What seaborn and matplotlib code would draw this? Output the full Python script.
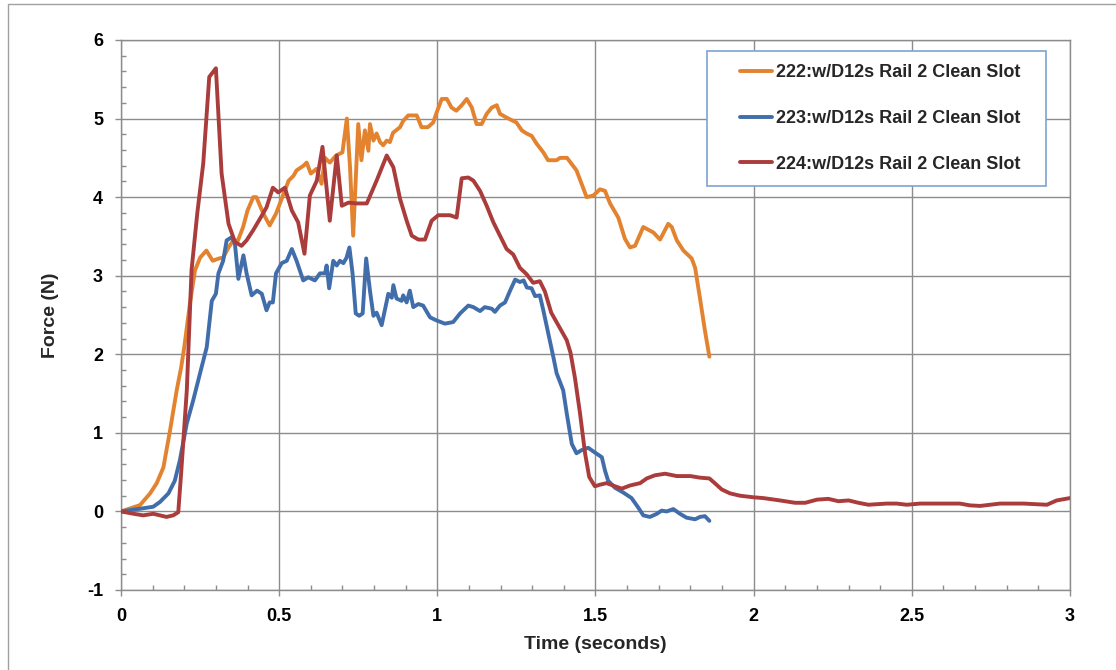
import matplotlib
matplotlib.use("Agg")
import matplotlib.pyplot as plt
from matplotlib.lines import Line2D
from matplotlib.patches import Rectangle
from matplotlib.ticker import MultipleLocator
import numpy as np
import pandas as pd
import seaborn as sns

labels = ["222:w/D12s Rail 2 Clean Slot",
          "223:w/D12s Rail 2 Clean Slot",
          "224:w/D12s Rail 2 Clean Slot"]
colors = ["#E3832F", "#416EAB", "#AA3C3B"]

t222 = [0, 0.06, 0.092, 0.113, 0.134, 0.155, 0.176, 0.19, 0.2, 0.218, 0.234, 0.25, 0.27, 0.29, 0.31,
        0.323, 0.34, 0.355, 0.37, 0.386, 0.40, 0.418, 0.428, 0.45, 0.47, 0.49, 0.51, 0.53, 0.545, 0.555,
        0.577, 0.587, 0.60, 0.618, 0.634, 0.645, 0.66, 0.68, 0.70, 0.714, 0.724, 0.734, 0.75, 0.76, 0.771,
        0.782, 0.787, 0.798, 0.808, 0.819, 0.829, 0.84, 0.85, 0.86, 0.882, 0.892, 0.908, 0.935, 0.95, 0.97,
        0.987, 0.998, 1.014, 1.03, 1.045, 1.06, 1.077, 1.093, 1.109, 1.124, 1.14, 1.156, 1.172, 1.188, 1.198,
        1.22, 1.24, 1.25, 1.267, 1.282, 1.298, 1.314, 1.335, 1.35, 1.377, 1.388, 1.41, 1.44, 1.472, 1.493,
        1.514, 1.53, 1.546, 1.572, 1.593, 1.609, 1.625, 1.651, 1.683, 1.704, 1.73, 1.741, 1.757, 1.778, 1.804,
        1.815, 1.83, 1.846, 1.86]
f222 = [0, 0.08, 0.23, 0.36, 0.56, 1.03, 1.54, 1.83, 2.09, 2.65, 3.07, 3.23, 3.32, 3.19, 3.22,
        3.23, 3.36, 3.45, 3.45, 3.62, 3.83, 4.0, 4.0, 3.79, 3.64, 3.79, 4.0, 4.21, 4.27, 4.34,
        4.4, 4.44, 4.3, 4.36, 4.17, 4.5, 4.44, 4.53, 4.57, 5.0, 4.38, 3.51, 4.93, 4.47, 4.85,
        4.59, 4.93, 4.72, 4.81, 4.7, 4.66, 4.72, 4.7, 4.82, 4.89, 4.97, 5.04, 5.04, 4.89, 4.89,
        4.95, 5.08, 5.25, 5.25, 5.14, 5.1, 5.17, 5.25, 5.14, 4.93, 4.93, 5.06, 5.14, 5.17, 5.06,
        5.01, 4.97, 4.95, 4.85, 4.81, 4.78, 4.68, 4.57, 4.47, 4.47, 4.5, 4.5, 4.34, 4.0, 4.02,
        4.1, 4.08, 3.92, 3.74, 3.47, 3.36, 3.38, 3.62, 3.55, 3.46, 3.66, 3.62, 3.45, 3.32, 3.22,
        3.1, 2.72, 2.3, 1.97]

t223 = [0, 0.07, 0.102, 0.123, 0.15, 0.17, 0.186, 0.208, 0.228, 0.25, 0.271, 0.287, 0.30, 0.308, 0.323,
        0.334, 0.35, 0.36, 0.371, 0.387, 0.397, 0.413, 0.43, 0.445, 0.46, 0.47, 0.48, 0.49, 0.508, 0.524,
        0.54, 0.555, 0.576, 0.592, 0.613, 0.629, 0.645, 0.65, 0.658, 0.671, 0.682, 0.692, 0.703, 0.713, 0.722,
        0.732, 0.742, 0.753, 0.764, 0.775, 0.787, 0.798, 0.808, 0.824, 0.845, 0.856, 0.861, 0.871, 0.887, 0.892,
        0.903, 0.913, 0.924, 0.94, 0.955, 0.977, 0.998, 1.024, 1.05, 1.072, 1.098, 1.114, 1.135, 1.15, 1.172,
        1.182, 1.198, 1.214, 1.23, 1.246, 1.261, 1.273, 1.283, 1.298, 1.309, 1.324, 1.335, 1.351, 1.367, 1.377,
        1.398, 1.409, 1.425, 1.44, 1.456, 1.477, 1.498, 1.52, 1.53, 1.54, 1.562, 1.588, 1.614, 1.635, 1.651,
        1.672, 1.694, 1.709, 1.725, 1.746, 1.767, 1.788, 1.815, 1.83, 1.846, 1.86]
f223 = [0, 0.04, 0.06, 0.12, 0.23, 0.39, 0.65, 1.12, 1.41, 1.76, 2.09, 2.68, 2.77, 3.03, 3.19,
        3.45, 3.49, 3.41, 2.96, 3.26, 3.03, 2.75, 2.81, 2.77, 2.56, 2.66, 2.66, 3.03, 3.16, 3.19,
        3.34, 3.19, 2.94, 2.98, 2.94, 3.03, 3.03, 3.13, 2.84, 3.19, 3.13, 3.19, 3.16, 3.23, 3.36,
        3.03, 2.52, 2.49, 2.52, 3.22, 2.81, 2.49, 2.53, 2.37, 2.77, 2.72, 2.88, 2.71, 2.68, 2.75,
        2.66, 2.81, 2.6, 2.64, 2.62, 2.47, 2.43, 2.39, 2.41, 2.52, 2.62, 2.6, 2.55, 2.6, 2.58,
        2.54, 2.62, 2.66, 2.81, 2.95, 2.92, 2.94, 2.85, 2.84, 2.74, 2.75, 2.56, 2.26, 1.96, 1.76,
        1.54, 1.25, 0.86, 0.74, 0.78, 0.81, 0.75, 0.69, 0.52, 0.39, 0.3, 0.24, 0.17, 0.05, -0.05,
        -0.07, -0.03, 0.01, 0.0, 0.03, -0.03, -0.08, -0.1, -0.07, -0.06, -0.12]

t224 = [0, 0.04, 0.07, 0.102, 0.144, 0.165, 0.181, 0.19, 0.208, 0.223, 0.241, 0.26, 0.279, 0.30, 0.318,
        0.34, 0.36, 0.381, 0.397, 0.418, 0.44, 0.46, 0.48, 0.497, 0.518, 0.54, 0.56, 0.58, 0.597, 0.619,
        0.637, 0.66, 0.682, 0.698, 0.719, 0.745, 0.777, 0.808, 0.84, 0.861, 0.882, 0.903, 0.919, 0.94, 0.961,
        0.982, 1.003, 1.04, 1.061, 1.077, 1.098, 1.114, 1.135, 1.156, 1.177, 1.198, 1.219, 1.24, 1.261, 1.282,
        1.303, 1.324, 1.34, 1.36, 1.388, 1.409, 1.421, 1.435, 1.451, 1.467, 1.48, 1.498, 1.514, 1.535, 1.562,
        1.583, 1.609, 1.641, 1.662, 1.688, 1.72, 1.757, 1.8, 1.83, 1.86, 1.877, 1.899, 1.925, 1.957, 1.999,
        2.03, 2.083, 2.131, 2.163, 2.2, 2.236, 2.268, 2.3, 2.331, 2.363, 2.42, 2.452, 2.484, 2.526, 2.59,
        2.652, 2.684, 2.716, 2.779, 2.853, 2.927, 2.958, 3.0]
f224 = [0, -0.03, -0.05, -0.03, -0.07, -0.05, -0.01, 0.48, 1.54, 3.07, 3.79, 4.43, 5.53, 5.64, 4.3,
        3.66, 3.43, 3.38, 3.45, 3.58, 3.73, 3.87, 4.12, 4.06, 4.12, 3.83, 3.68, 3.28, 4.02, 4.21,
        4.64, 3.7, 4.53, 3.89, 3.93, 3.92, 3.92, 4.21, 4.53, 4.38, 3.98, 3.7, 3.51, 3.46, 3.46,
        3.7, 3.77, 3.77, 3.74, 4.24, 4.25, 4.21, 4.08, 3.89, 3.68, 3.51, 3.34, 3.27, 3.1, 3.02,
        2.91, 2.93, 2.8, 2.53, 2.33, 2.18, 2.02, 1.7, 1.25, 0.74, 0.44, 0.32, 0.34, 0.36, 0.32,
        0.29, 0.33, 0.36, 0.42, 0.46, 0.48, 0.45, 0.45, 0.43, 0.42, 0.36, 0.28, 0.23, 0.2, 0.18,
        0.17, 0.14, 0.11, 0.11, 0.15, 0.16, 0.13, 0.14, 0.11, 0.085, 0.1, 0.1, 0.085, 0.1, 0.1,
        0.1, 0.077, 0.07, 0.1, 0.1, 0.085, 0.14, 0.17]

x_ticks = [0, 0.5, 1, 1.5, 2, 2.5, 3]
x_tick_labels = ["0", "0.5", "1", "1.5", "2", "2.5", "3"]
y_ticks = [-1, 0, 1, 2, 3, 4, 5, 6]
y_tick_labels = ["-1", "0", "1", "2", "3", "4", "5", "6"]

df = pd.concat([
    pd.DataFrame({"Time": t222, "Force": f222, "series": labels[0]}),
    pd.DataFrame({"Time": t223, "Force": f223, "series": labels[1]}),
    pd.DataFrame({"Time": t224, "Force": f224, "series": labels[2]}),
], ignore_index=True)

sns.set_theme(style="white")
plt.rcParams["font.family"] = ["Liberation Sans", "DejaVu Sans"]

W, H = 1116, 670
fig = plt.figure(figsize=(W / 100, H / 100), dpi=100)
ax = fig.add_axes([121 / W, 1 - 590 / H, (1070 - 121) / W, (590 - 40) / H])

grid_c = "#8C8C8C"
ax.set_axisbelow(True)
ax.grid(True, which="major", color=grid_c, linewidth=1.0)

sns.lineplot(data=df, x="Time", y="Force", hue="series", palette=dict(zip(labels, colors)),
             estimator=None, sort=False, linewidth=2.8, legend=False, ax=ax)
for ln in ax.lines:
    ln.set_solid_joinstyle("round")
    ln.set_solid_capstyle("round")
    ln.set_zorder(3)

ax.set_xlim(0, 3)
ax.set_ylim(-1, 6)
ax.set_xticks(x_ticks)
ax.set_xticklabels(x_tick_labels)
ax.set_yticks(y_ticks)
ax.set_yticklabels(y_tick_labels)
ax.xaxis.set_minor_locator(MultipleLocator(0.1))
ax.yaxis.set_minor_locator(MultipleLocator(0.2))
ax.tick_params(axis="both", which="major", direction="out", length=4.5, width=1.0,
               color=grid_c, labelsize=13, pad=8.5)
ax.tick_params(axis="both", which="minor", direction="in", length=3.5, width=1.0, color=grid_c)
ax.tick_params(axis="x", which="both", bottom=True)
ax.tick_params(axis="y", which="both", left=True)
for lab in ax.get_xticklabels() + ax.get_yticklabels():
    lab.set_fontweight("bold")
    lab.set_color("black")

for s in ["left", "bottom", "top", "right"]:
    ax.spines[s].set_color(grid_c)
    ax.spines[s].set_linewidth(1.0)

ax.set_xlabel("Time (seconds)", fontsize=14, fontweight="bold", labelpad=8)
ax.set_ylabel("Force (N)", fontsize=14, fontweight="bold", labelpad=20)

# legend frame
x0 = (707 - 121) / (1070 - 121)
y0 = (590 - 186) / 550
w = (1046 - 707) / (1070 - 121)
h = (186 - 51) / 550
ax.add_patch(Rectangle((x0, y0), w, h, transform=ax.transAxes, facecolor="white",
                       edgecolor="#7FA3D1", linewidth=1.2, zorder=4))
handles = [Line2D([0], [0], color=c, linewidth=2.8) for c in colors]
leg = ax.legend(handles, labels, loc="upper left",
                bbox_to_anchor=((740 - 121) / 949, (590 - 64) / 550),
                frameon=False, borderpad=0, borderaxespad=0, handlelength=1.8,
                handletextpad=0.22, labelspacing=1.6, prop={"size": 13, "weight": "bold"})
leg.set_zorder(5)

# outer chart border
fig.add_artist(Rectangle((8 / W, -0.01), 1.02, 1 - 4 / H + 0.01, transform=fig.transFigure,
                         facecolor="none", edgecolor="#A0A0A0", linewidth=1.0))

fig.savefig("out.png", dpi=100)
